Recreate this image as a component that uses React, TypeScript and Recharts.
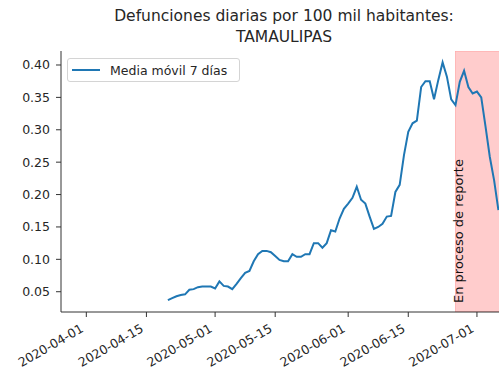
import {
  LineChart,
  Line,
  XAxis,
  YAxis,
  Legend,
  ReferenceArea,
} from "recharts";

const FONT = "DejaVu Sans";
const DAY = 86400000;

// first date with a 7-day moving average value
const startDate = "2020-04-20";

// Media móvil 7 días, one value per day from startDate
const movingAvg = [
  0.037, 0.04, 0.043, 0.045, 0.046, 0.053, 0.054, 0.057, 0.058, 0.058,
  0.058, 0.055, 0.066, 0.059, 0.058, 0.054, 0.062, 0.071, 0.079, 0.082,
  0.097, 0.108, 0.113, 0.113, 0.111, 0.105, 0.099, 0.097, 0.097, 0.108,
  0.104, 0.104, 0.108, 0.108, 0.125, 0.125, 0.118, 0.125, 0.145, 0.143,
  0.163, 0.178, 0.186, 0.195, 0.212, 0.192, 0.186, 0.166, 0.147, 0.15,
  0.155, 0.166, 0.167, 0.204, 0.215, 0.261, 0.297, 0.31, 0.314, 0.366,
  0.375, 0.375, 0.347, 0.377, 0.404, 0.382, 0.347, 0.338, 0.374, 0.391,
  0.366, 0.356, 0.359, 0.35, 0.305, 0.258, 0.222, 0.176,
];

const tickDates = [
  "2020-04-01",
  "2020-04-15",
  "2020-05-01",
  "2020-05-15",
  "2020-06-01",
  "2020-06-15",
  "2020-07-01",
];

const yTicks = [0.05, 0.1, 0.15, 0.2, 0.25, 0.3, 0.35, 0.4];

// start of the "en proceso de reporte" shaded region
const reportStart = "2020-06-26";

const toTime = (s: string) => Date.parse(s + "T00:00:00Z");
const fmtDate = (t: number) => new Date(t).toISOString().slice(0, 10);

const t0 = toTime(startDate);
const data = movingAvg.map((v, i) => ({ t: t0 + i * DAY, v }));

const xTicks = tickDates.map(toTime);
const xDomain = [toTime("2020-04-01") - 5.9 * DAY, toTime("2020-04-01") + 98 * DAY];
const yDomain = [0.0187, 0.4216];

const DateTick = (props: any) => {
  const { x, y, payload } = props;
  const ax = x - 2;
  const ay = y + 12;
  return (
    <text
      x={ax}
      y={ay}
      textAnchor="end"
      transform={`rotate(-30, ${ax}, ${ay})`}
      fontFamily={FONT}
      fontSize={12.5}
      fill="#262626"
    >
      {fmtDate(payload.value)}
    </text>
  );
};

const renderLegend = () => (
  <div
    style={{
      display: "flex",
      alignItems: "center",
      boxSizing: "border-box",
      width: 173,
      height: 24,
      padding: "0 4px",
      border: "1px solid #d4d4d4",
      borderRadius: 3,
      background: "rgba(255,255,255,0.8)",
      fontFamily: FONT,
      fontSize: 12.5,
      color: "#262626",
      whiteSpace: "nowrap",
    }}
  >
    <svg width={28} height={4}>
      <line x1={0} y1={2} x2={28} y2={2} stroke="#1f77b4" strokeWidth={2} />
    </svg>
    <span style={{ marginLeft: 10 }}>Media móvil 7 días</span>
  </div>
);

const renderReportLabel = (props: any) => {
  const vb = props.viewBox;
  const lx = vb.x + 8;
  const ly = vb.y + vb.height - 9;
  return (
    <text
      x={lx}
      y={ly}
      transform={`rotate(-90, ${lx}, ${ly})`}
      fontFamily={FONT}
      fontSize={13}
      fill="#111"
    >
      En proceso de reporte
    </text>
  );
};

export default function App() {
  return (
    <div
      style={{
        position: "absolute",
        left: 0,
        top: 0,
        width: 499,
        height: 375,
        overflow: "hidden",
        background: "white",
      }}
    >
      <div
        style={{
          position: "absolute",
          left: 61,
          top: 6,
          width: 446,
          textAlign: "center",
          fontFamily: FONT,
          fontSize: 15.5,
          lineHeight: "21px",
          color: "#262626",
          zIndex: 1,
        }}
      >
        Defunciones diarias por 100 mil habitantes:
        <br />
        TAMAULIPAS
      </div>
      <LineChart
        width={510}
        height={375}
        data={data}
        margin={{ top: 51, right: 3, bottom: 0, left: 0 }}
      >
        <XAxis
          dataKey="t"
          type="number"
          domain={xDomain}
          ticks={xTicks}
          allowDataOverflow
          height={63}
          tickSize={5}
          tickMargin={2}
          tick={<DateTick />}
          stroke="#333"
          interval={0}
        />
        <YAxis
          type="number"
          domain={yDomain}
          ticks={yTicks}
          allowDataOverflow
          width={61}
          tickSize={5}
          tickMargin={6}
          tickFormatter={(v: number) => v.toFixed(2)}
          tick={{ fontFamily: FONT, fontSize: 12.5, fill: "#262626" }}
          stroke="#333"
          interval={0}
        />
        <ReferenceArea
          x1={toTime(reportStart)}
          x2={xDomain[1]}
          fill="#ff0000"
          fillOpacity={0.2}
          stroke="#ff0000"
          strokeOpacity={0.2}
          ifOverflow="hidden"
          label={renderReportLabel}
        />
        <Line
          type="linear"
          dataKey="v"
          stroke="#1f77b4"
          strokeWidth={2}
          dot={false}
          isAnimationActive={false}
        />
        <Legend
          layout="vertical"
          align="center"
          verticalAlign="middle"
          content={renderLegend}
          wrapperStyle={{ left: 67, top: 58, width: "auto" }}
        />
      </LineChart>
    </div>
  );
}
